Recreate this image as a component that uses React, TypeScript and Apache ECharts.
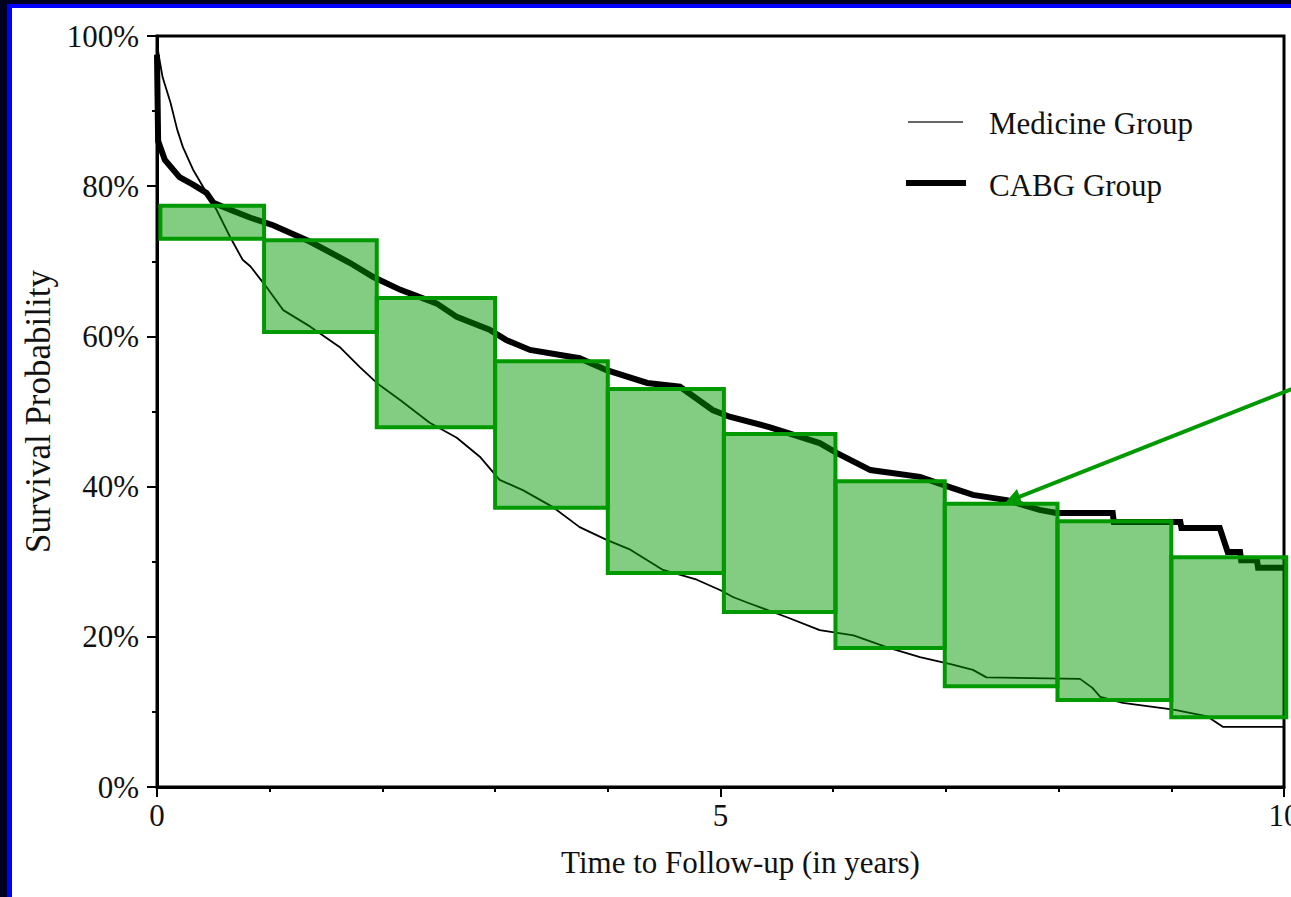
import React, { useEffect, useRef } from "react";
import * as echarts from "echarts";

// ---- Data ----
const medicineTime = [0, 0.02, 0.05, 0.12, 0.18, 0.23, 0.32, 0.41, 0.53, 0.65, 0.76, 0.83, 0.97, 1.12, 1.36, 1.62, 1.8, 1.95, 2.16, 2.42, 2.66, 2.87, 3.04, 3.25, 3.51, 3.75, 3.99, 4.2, 4.49, 4.79, 5.0, 5.11, 5.23, 5.59, 5.88, 6.18, 6.48, 6.77, 7.06, 7.24, 7.36, 8.19, 8.3, 8.37, 8.57, 9.02, 9.32, 9.46, 10];
const medicineSurv = [99, 97, 94.5, 91.1, 87.5, 85.2, 82.2, 79.9, 76.8, 73.2, 70.2, 69.3, 66.6, 63.5, 61.3, 58.6, 55.9, 53.8, 51.5, 48.5, 46.5, 43.9, 40.9, 39.5, 37.3, 34.6, 32.9, 31.6, 28.9, 27.6, 26.2, 25.3, 24.6, 22.6, 20.9, 20.2, 18.6, 17.3, 16.3, 15.6, 14.6, 14.4, 13.2, 12.0, 11.2, 10.3, 9.4, 8.0, 8.0];

const cabgTime = [0, 0.01, 0.07, 0.2, 0.32, 0.44, 0.5, 0.66, 0.83, 1.03, 1.36, 1.71, 1.92, 2.16, 2.48, 2.66, 2.95, 3.1, 3.31, 3.75, 3.99, 4.35, 4.64, 4.93, 5.08, 5.44, 5.88, 6.03, 6.33, 6.77, 7.06, 7.24, 7.54, 7.83, 7.98, 8.48, 8.49, 9.08, 9.09, 9.43, 9.5, 9.61, 9.62, 9.76, 9.77, 10];
const cabgSurv = [97.5, 86, 83.5, 81.2, 80.2, 79.1, 77.8, 76.8, 75.8, 74.8, 72.6, 69.8, 67.9, 66.2, 64.4, 62.6, 60.9, 59.5, 58.2, 57.1, 55.5, 53.8, 53.3, 50.2, 49.3, 47.9, 45.8, 44.5, 42.2, 41.3, 39.8, 38.9, 38.2, 36.9, 36.5, 36.5, 35.3, 35.3, 34.5, 34.5, 31.3, 31.3, 30.2, 30.2, 29.2, 29.2];

// Highlight boxes (one per follow-up year)
const boxStart = [0.03, 0.95, 1.95, 3.0, 4.0, 5.03, 6.02, 6.99, 7.99, 9.0];
const boxEnd = [0.95, 1.95, 3.0, 4.0, 5.03, 6.02, 6.99, 7.99, 9.0, 10.02];
const boxLow = [73.0, 60.6, 47.9, 37.2, 28.5, 23.3, 18.5, 13.4, 11.6, 9.3];
const boxHigh = [77.4, 72.8, 65.1, 56.7, 53.0, 47.0, 40.7, 37.7, 35.4, 30.6];

const yTicks = [0, 20, 40, 60, 80, 100];
const xTicks = [0, 5, 10];

const seriesNames = ["Medicine Group", "CABG Group"];

const FONT = '"Liberation Serif", "Times New Roman", serif';

export default function App() {
  const ref = useRef<HTMLDivElement>(null);

  useEffect(() => {
    if (!ref.current) return;
    const chart = echarts.init(ref.current, undefined, { renderer: "svg" });

    const medData = medicineTime.map((t, i) => [t, medicineSurv[i]]);
    const cabgData = cabgTime.map((t, i) => [t, cabgSurv[i]]);
    const boxData = boxStart.map((s, i) => [s, boxEnd[i], boxLow[i], boxHigh[i]]);

    const option: any = {
      animation: false,
      backgroundColor: "#ffffff",
      grid: {
        left: 157,
        right: 7,
        top: 36,
        bottom: 110,
        containLabel: false,
        outerBoundsMode: "none",
        show: true,
        borderColor: "#000",
        borderWidth: 3,
        backgroundColor: "transparent",
      },
      xAxis: {
        type: "value",
        min: xTicks[0],
        max: xTicks[xTicks.length - 1],
        interval: 5,
        name: "Time to Follow-up (in years)",
        nameLocation: "middle",
        nameGap: 60,
        nameTextStyle: { fontFamily: FONT, fontSize: 31, color: "#111", padding: [0, 0, 0, 40] },
        axisLine: { show: true, lineStyle: { color: "#000", width: 3 } },
        axisTick: { show: true, length: 10, lineStyle: { color: "#000", width: 2 } },
        minorTick: { show: true, splitNumber: 5, length: 5, lineStyle: { color: "#000", width: 2 } },
        splitLine: { show: false },
        axisLabel: {
          fontFamily: FONT,
          fontSize: 31,
          color: "#111",
          margin: 13,
          showMaxLabel: true,
          showMinLabel: true,
          hideOverlap: false,
        },
      },
      yAxis: {
        type: "value",
        min: yTicks[0],
        max: yTicks[yTicks.length - 1],
        interval: 20,
        name: "Survival Probability",
        nameLocation: "middle",
        nameRotate: 90,
        nameGap: 95,
        nameTextStyle: { fontFamily: FONT, fontSize: 35, color: "#111" },
        axisLine: { show: true, lineStyle: { color: "#000", width: 3 } },
        axisTick: { show: true, length: 10, lineStyle: { color: "#000", width: 2 } },
        minorTick: { show: true, splitNumber: 2, length: 5, lineStyle: { color: "#000", width: 2 } },
        splitLine: { show: false },
        axisLabel: {
          fontFamily: FONT,
          fontSize: 31,
          color: "#111",
          margin: 18,
          formatter: "{value}%",
        },
      },
      series: [
        {
          name: seriesNames[0],
          type: "line",
          data: medData,
          showSymbol: false,
          symbol: "none",
          lineStyle: { color: "#000", width: 1.8 },
          z: 2,
        },
        {
          name: seriesNames[1],
          type: "line",
          data: cabgData,
          showSymbol: false,
          symbol: "none",
          lineStyle: { color: "#000", width: 6, join: "miter" },
          z: 2,
        },
        {
          name: "Boxes",
          type: "custom",
          clip: false,
          z: 5,
          data: boxData,
          encode: { x: [0, 1], y: [2, 3] },
          renderItem: (params: any, api: any) => {
            const p0 = api.coord([api.value(0), api.value(3)]);
            const p1 = api.coord([api.value(1), api.value(2)]);
            return {
              type: "rect",
              shape: { x: p0[0], y: p0[1], width: p1[0] - p0[0], height: p1[1] - p0[1] },
              style: { fill: "rgba(0,153,0,0.49)", stroke: "#009900", lineWidth: 4 },
            };
          },
        },
      ],
      graphic: [
        // frame strips
        { type: "rect", shape: { x: 0, y: 0, width: 1291, height: 4 }, style: { fill: "#000020" }, z: 100 },
        { type: "rect", shape: { x: 0, y: 0, width: 7, height: 897 }, style: { fill: "#000020" }, z: 100 },
        { type: "rect", shape: { x: 7, y: 4, width: 1284, height: 4 }, style: { fill: "#0000ff" }, z: 100 },
        { type: "rect", shape: { x: 7, y: 4, width: 5, height: 893 }, style: { fill: "#0000ff" }, z: 100 },
        // legend
        { type: "line", shape: { x1: 908, y1: 122, x2: 963, y2: 122 }, style: { stroke: "#333", lineWidth: 1.6 }, z: 50 },
        { type: "line", shape: { x1: 906, y1: 183, x2: 966, y2: 183 }, style: { stroke: "#000", lineWidth: 6 }, z: 50 },
        {
          type: "text",
          x: 989,
          y: 123,
          style: { text: seriesNames[0], fontFamily: FONT, fontSize: 31, fill: "#111", verticalAlign: "middle" },
          z: 50,
        },
        {
          type: "text",
          x: 989,
          y: 185,
          style: { text: seriesNames[1], fontFamily: FONT, fontSize: 31, fill: "#111", verticalAlign: "middle" },
          z: 50,
        },
        // arrow
        { type: "line", shape: { x1: 1292, y1: 389, x2: 1014, y2: 499 }, style: { stroke: "#009900", lineWidth: 4 }, z: 60 },
        {
          type: "polygon",
          shape: { points: [[1005, 503], [1022, 503], [1017, 489]] },
          style: { fill: "#009900" },
          z: 60,
        },
      ],
    };

    chart.setOption(option);
    return () => chart.dispose();
  }, []);

  return (
    <div
      ref={ref}
      style={{ position: "fixed", left: 0, top: 0, width: 1291, height: 897 }}
    />
  );
}
